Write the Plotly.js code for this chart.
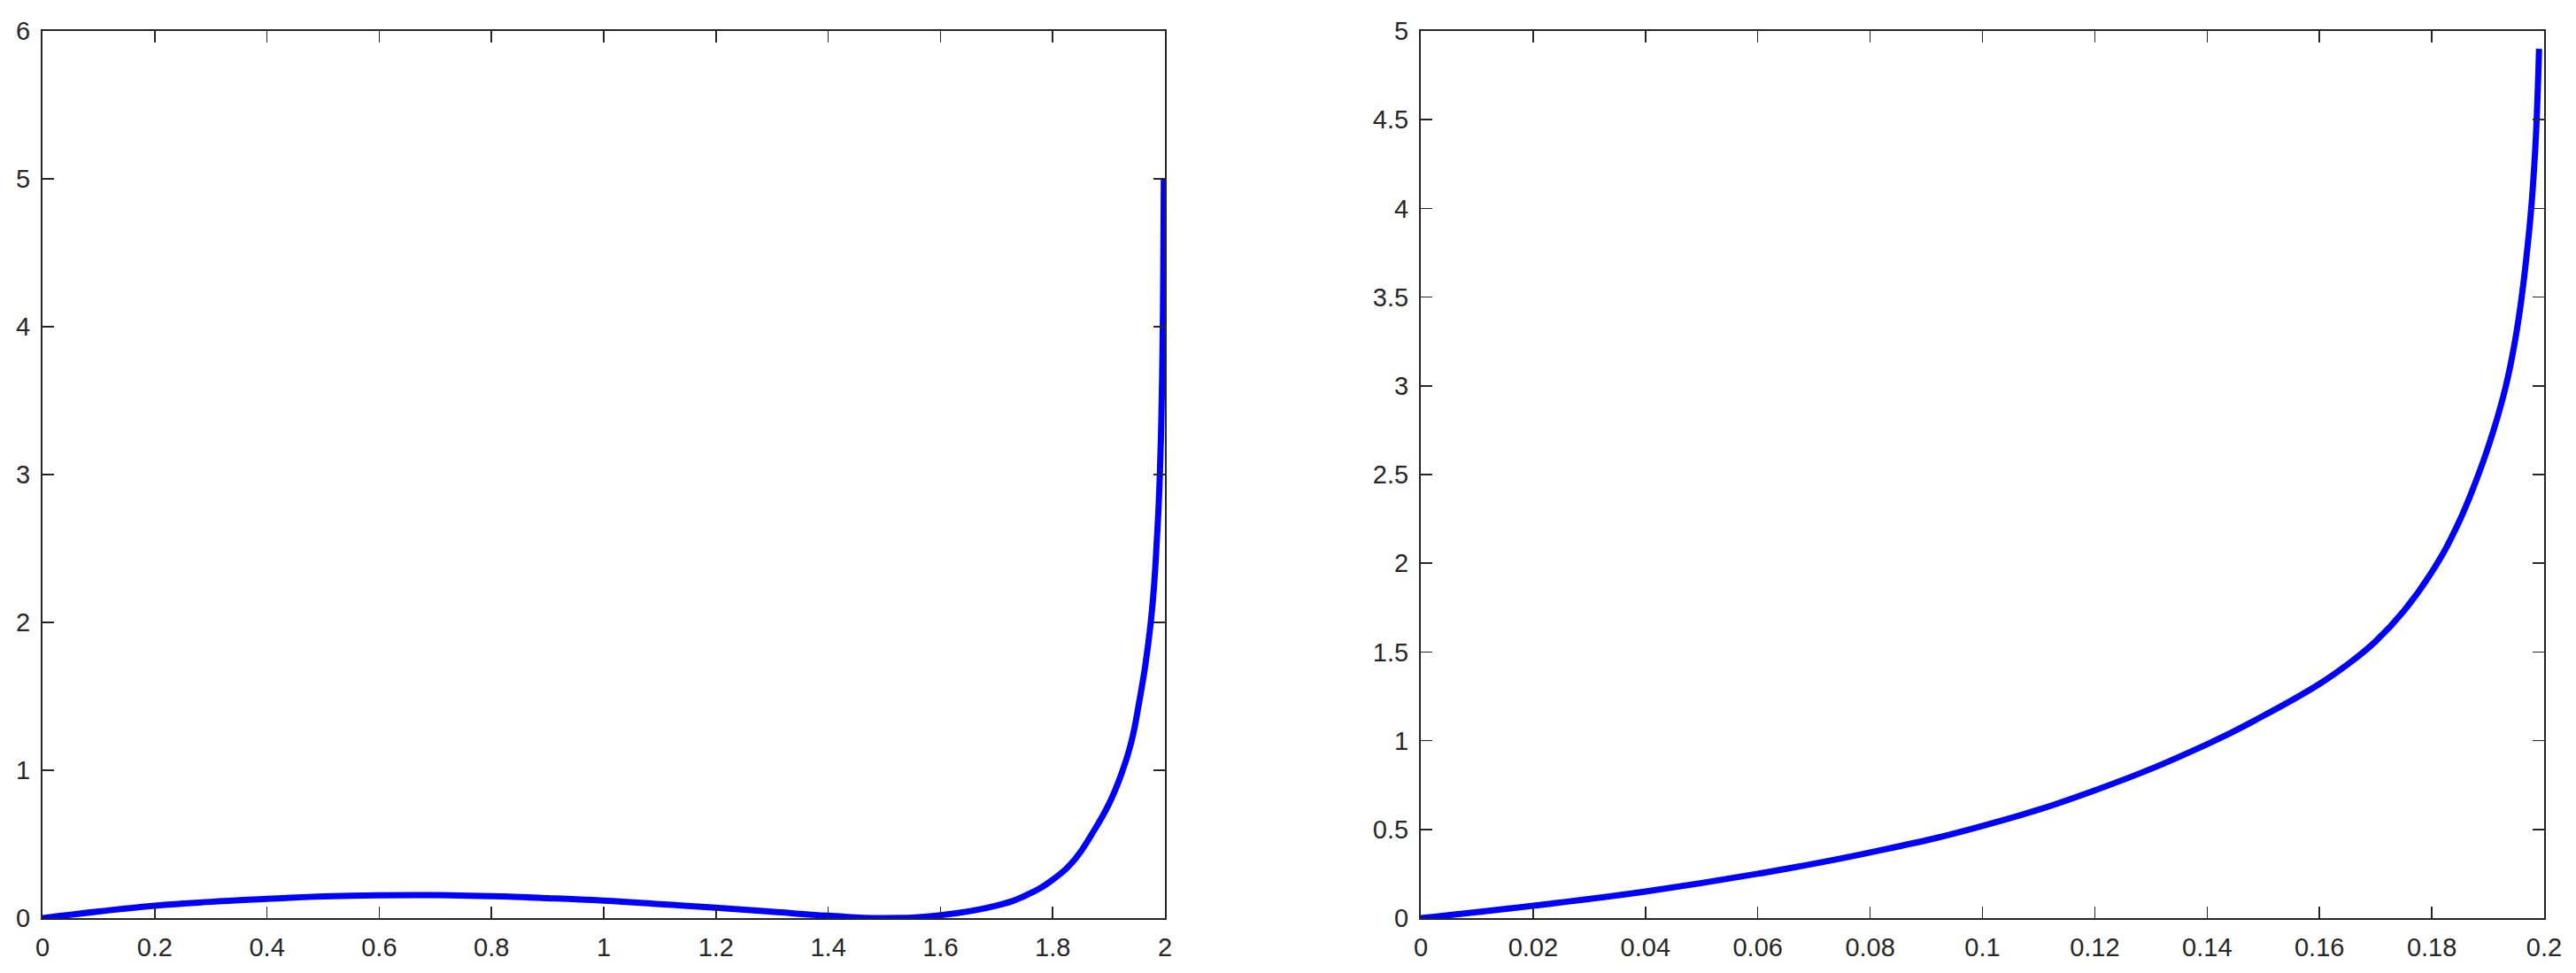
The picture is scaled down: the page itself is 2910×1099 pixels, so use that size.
<!DOCTYPE html>
<html>
<head>
<meta charset="utf-8">
<script src="https://cdn.plot.ly/plotly-3.0.1.min.js"></script>
<style>html,body{margin:0;padding:0;background:#fff;}#chart{width:2910px;height:1099px;}</style>
</head>
<body>
<div id="chart"></div>
<script>
// Left panel curve
const leftX = [0, 0.1, 0.2, 0.3, 0.4, 0.5, 0.6, 0.7, 0.8, 0.9, 1.0, 1.1, 1.2, 1.3, 1.4, 1.5, 1.6, 1.7, 1.75, 1.8, 1.84, 1.87, 1.9, 1.922, 1.94, 1.954, 1.965, 1.975, 1.981, 1.985, 1.989, 1.9917, 1.994, 1.9958, 1.997, 1.998];
const leftY = [0, 0.045, 0.084, 0.11, 0.13, 0.146, 0.154, 0.155, 0.148, 0.135, 0.118, 0.095, 0.07, 0.043, 0.016, 0.0, 0.02, 0.085, 0.15, 0.26, 0.40, 0.57, 0.77, 0.97, 1.19, 1.46, 1.71, 2.01, 2.27, 2.52, 2.81, 3.1, 3.45, 3.89, 4.35, 5.0];

// Right panel curve
const rightX = [0, 0.02, 0.04, 0.06, 0.08, 0.1, 0.12, 0.14, 0.15, 0.16, 0.165, 0.17, 0.175, 0.18, 0.1845, 0.1883, 0.191, 0.1932, 0.1948, 0.196, 0.197, 0.1977, 0.1982, 0.1986, 0.1991];
const rightY = [0, 0.07, 0.15, 0.25, 0.37, 0.52, 0.72, 0.98, 1.14, 1.32, 1.43, 1.56, 1.73, 1.95, 2.21, 2.5, 2.75, 3.0, 3.25, 3.5, 3.77, 4.0, 4.22, 4.45, 4.9];

// Tick labels
const leftXTicks = [0, 0.2, 0.4, 0.6, 0.8, 1, 1.2, 1.4, 1.6, 1.8, 2];
const leftXLabels = ["0", "0.2", "0.4", "0.6", "0.8", "1", "1.2", "1.4", "1.6", "1.8", "2"];
const leftYTicks = [0, 1, 2, 3, 4, 5, 6];
const leftYLabels = ["0", "1", "2", "3", "4", "5", "6"];
const rightXTicks = [0, 0.02, 0.04, 0.06, 0.08, 0.1, 0.12, 0.14, 0.16, 0.18, 0.2];
const rightXLabels = ["0", "0.02", "0.04", "0.06", "0.08", "0.1", "0.12", "0.14", "0.16", "0.18", "0.2"];
const rightYTicks = [0, 0.5, 1, 1.5, 2, 2.5, 3, 3.5, 4, 4.5, 5];
const rightYLabels = ["0", "0.5", "1", "1.5", "2", "2.5", "3", "3.5", "4", "4.5", "5"];

const lineColor = "#0000ff";
const axisColor = "#262626";

const traces = [
  {x: leftX, y: leftY, xaxis: "x", yaxis: "y", type: "scatter", mode: "lines",
   line: {color: lineColor, width: 7, shape: "spline", smoothing: 1.3}, showlegend: false},
  {x: rightX, y: rightY, xaxis: "x2", yaxis: "y2", type: "scatter", mode: "lines",
   line: {color: lineColor, width: 7, shape: "spline", smoothing: 1.3}, showlegend: false}
];

function axisBase() {
  return {
    showline: true, linecolor: axisColor, linewidth: 2, mirror: "ticks",
    ticks: "inside", ticklen: 13, tickwidth: 1.5, tickcolor: axisColor,
    showgrid: false, zeroline: false,
    tickfont: {family: "Liberation Sans, Arial, sans-serif", size: 29, color: axisColor}
  };
}

const layout = {
  width: 2910, height: 1099,
  margin: {l: 0, r: 0, t: 35, b: 62},
  paper_bgcolor: "#ffffff", plot_bgcolor: "#ffffff",
  showlegend: false,
  xaxis: Object.assign(axisBase(), {domain: [48/2910, 1316/2910], range: [0, 2], tickvals: leftXTicks, ticktext: leftXLabels, anchor: "y", ticklabelstandoff: 6}),
  yaxis: Object.assign(axisBase(), {domain: [0, 1], range: [0, 6], tickvals: leftYTicks, ticktext: leftYLabels, anchor: "x", ticklabelstandoff: 6}),
  xaxis2: Object.assign(axisBase(), {domain: [1605/2910, 2874/2910], range: [0, 0.2], tickvals: rightXTicks, ticktext: rightXLabels, anchor: "y2", ticklabelstandoff: 6}),
  yaxis2: Object.assign(axisBase(), {domain: [0, 1], range: [0, 5], tickvals: rightYTicks, ticktext: rightYLabels, anchor: "x2", ticklabelstandoff: 6})
};

Plotly.newPlot("chart", traces, layout, {displayModeBar: false, staticPlot: true});
</script>
</body>
</html>
